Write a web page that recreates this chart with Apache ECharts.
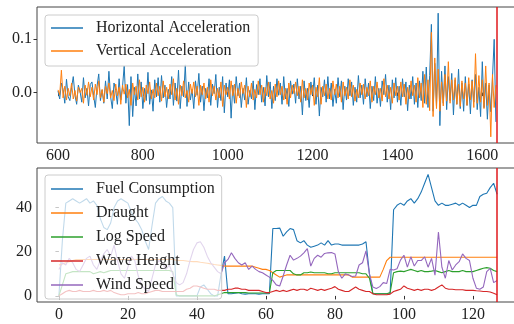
<!DOCTYPE html>
<html>
<head>
<meta charset="utf-8">
<script src="https://cdn.jsdelivr.net/npm/echarts@6/dist/echarts.min.js"></script>
<style>
html,body{margin:0;padding:0;background:#fff;overflow:hidden;}
#chart{width:514px;height:324px;}
</style>
</head>
<body>
<div id="chart"></div>
<script>
// ---------- Top panel: accelerations (values in units of 0.001) ----------
const accStart = 600;
const accStep = 4;
const horizAccMilli = [
  3, -12, 18, 6, -20, 25, -8, -15, 10, 30, -5, -22, 14, 2, -18, 28, -10, 8, -25, 15,
  20, -6, -28, 12, 35, -15, 5, -20, 22, -12, 40, -8, -30, 18, 4, -22, 26, -14, 10, 50,
  -20, 15, -62, 30, -45, 10, -25, 35, -12, 20, -30, 8, -15, 38, -22, 5, -35, 24, -8, 28,
  -18, 32, -10, 14, -28, 6, -12, 30, -24, 18, -16, 42, -30, 12, -8, 52, -26, 20, -14, 6,
  -30, 22, -5, 36, -18, 12, -34, 8, -10, 26, -24, 16, -2, 34, -28, 10, -15, 30, -38, 18,
  -8, 24, -48, 14, -20, 30, -6, 18, -28, 8, -14, 28, -22, 4, -12, 22, -32, 15, -4, 26,
  -18, 10, -25, 32, -8, 20, -30, 12, -15, 26, -5, 18, -22, 30, -12, 8, -26, 22, -3, 16,
  -20, 26, -12, 12, -42, 22, -15, 8, -28, 20, -4, 28, -22, 14, -44, 10, -8, 24, -18, 30,
  -12, 18, -26, 6, -20, 28, -8, 22, -32, 12, -14, 26, -6, 20, -24, 10, -18, 32, -10, 14,
  -22, 26, -8, 18, -30, 12, -15, 30, -20, 8, -26, 22, -4, 34, -18, 14, -32, 24, -10, 28,
  -18, 12, -24, 26, -8, 20, -34, 14, -12, 30, -22, 18, -28, 22, -15, 40, -20, 48, -28, 32,
  128, -35, 55, -25, 149, -62, 40, -20, 50, -32, 30, -15, 36, -42, 24, -22, 44, -30, 18, -35,
  30, -24, 16, -40, 24, -18, 34, -32, 10, -45, 58, -28, 18, -50, 14, -36, 28, 100, -55
];
const vertAccMilli = [
  5, -4, 42, -10, 12, -14, 8, -6, 18, -12, 4, -16, 10, 0, 8, -20, 14, -5, 20, -8,
  10, -14, 16, -4, 22, -10, 6, -18, 12, -2, 18, -10, 4, -15, 16, -6, 10, -22, 14, -3,
  16, -10, 6, -24, 18, -4, 12, -14, 24, -8, 10, -18, 14, -2, 20, -12, 6, -10, 18, -6,
  12, -16, 22, -8, 10, -12, 16, -4, 26, -14, 8, -22, 14, -6, 22, -10, 4, -18, 16, -2,
  20, -8, 12, -24, 14, -4, 18, -12, 10, -18, 24, -6, 12, -14, 8, -10, 20, -26, 14, -4,
  10, -12, 22, -6, 16, -20, 8, -10, 20, -2, 14, -28, 12, -8, 18, -14, 6, -10, 22, -4,
  14, -18, 10, -6, 20, -12, 4, -20, 16, -8, 22, -4, 12, -14, 8, -22, 18, -10, 14, -2,
  20, -6, 12, -18, 24, -10, 8, -14, 18, -4, 14, -24, 10, -8, 28, -22, 12, -6, 16, -12,
  8, -14, 22, -4, 16, -10, 12, -18, 20, -6, 10, -12, 24, -8, 14, -16, 6, -10, 18, -4,
  16, -12, 10, -6, 22, -18, 12, -4, 20, -10, 8, -16, 26, -8, 14, -12, 10, -20, 18, -6,
  12, -14, 20, -8, 16, -22, 10, -12, 22, -6, 14, -18, 28, -10, 18, -28, 34, -22, 24, -34,
  113, -45, 65, -30, 44, -35, 20, -25, 34, -16, 58, -20, 24, -14, 28, -22, 16, -26, 22, -12,
  18, -24, 28, -14, 22, -28, 73, -20, 32, -18, 24, -30, 50, -24, 18, -83, 34, -28, 14
];
const topXTicks = [600, 800, 1000, 1200, 1400, 1600];
const topYTicks = [0.0, 0.1];
const topMarker = 1635;

// ---------- Bottom panel: voyage variables, sample index 0..127 ----------
const fuelConsumption = [
  0, 25, 42, 43, 44, 43, 42, 43, 44, 42, 43, 41, 35, 31, 30, 33, 40, 43, 44, 43,
  42, 38, 35, 33, 30, 25, 21, 32, 42, 44, 45, 43, 42, 40, 0, 0, 0, 0, 0, 0,
  0, 4, 5, 3, 1, 0, 0, 10, 18, 1, 1, 1.2, 1.5, 1, 0.8, 1, 1, 1, 0.8, 1,
  1, 1, 30.5, 30.5, 30.7, 27, 29, 30.5, 30, 25, 24, 25, 23, 22, 22.5, 23, 24, 23, 25, 23,
  23.5, 23.5, 23, 23, 23, 23, 23, 23, 23.5, 24.5, 10, 1, 1, 1, 1, 1, 1, 39, 41, 42,
  41, 43, 44, 42, 44, 47, 51, 55, 49, 43, 41, 42, 41, 41, 41.5, 42, 41, 42, 41, 40,
  41, 41, 45, 46, 46.5, 49, 51, 46
];
const draught = [
  14, 14.5, 15, 15.5, 16, 16.5, 16.5, 16.5, 16.5, 16.5, 16.5, 16.5, 16.5, 16.5, 16.5, 16.5, 16.5, 16.5, 16.5, 16.5,
  16.5, 16.5, 16.5, 16.5, 16.5, 16.5, 16.5, 16.5, 16.5, 16.5, 16.5, 16.5, 16.5, 16.5, 16.2, 16, 16, 15.8, 15.6, 15.5,
  15.5, 15.2, 15, 14.8, 14.5, 14.2, 14, 13.8, 13.5, 13.5, 13.5, 13.5, 13.5, 13.5, 13.5, 13.5, 13.5, 13, 12.5, 12,
  12, 11.5, 10.5, 9.5, 8.5, 9, 9.5, 9.5, 9.5, 9.5, 9.5, 9.5, 9.5, 9.5, 9.5, 9.5, 9.5, 9.5, 9.5, 9.5,
  9.5, 9.5, 9.5, 9.5, 9.5, 8.5, 8.5, 8.5, 8.5, 8.5, 8.5, 8.5, 8.5, 8.5, 12, 16, 17.5, 17.5, 17.5, 17.5,
  17.5, 17.5, 17.5, 17.5, 17.5, 17.5, 17.5, 17.5, 17.5, 17.5, 17.5, 17.5, 17.5, 17.5, 17.5, 17.5, 17.5, 17.5, 17.5, 17.5,
  17.5, 17.5, 17.5, 17.5, 17.5, 17.5, 17.5, 17.5
];
const logSpeed = [
  0, 5, 10, 10.5, 11, 11, 11, 11, 11, 11, 10, 10.5, 11, 10.5, 11, 11.5, 11.5, 11.5, 11.5, 11.5,
  11.5, 11.5, 11.5, 11.5, 11.5, 11.5, 11.5, 11.5, 11.5, 11.5, 11.5, 11.5, 11.5, 11, 0.5, 0, 0, 0, 0, 0,
  0, 0, 0, 0, 0, 0, 0.5, 1, 1.5, 1.5, 1.5, 1.5, 1.5, 1.5, 1.5, 1.3, 1.3, 1.3, 1.3, 1.3,
  1.3, 1.3, 10.5, 11.5, 11.5, 11.5, 11.5, 11.5, 10, 9.5, 9.5, 10.5, 10.5, 10.8, 10.5, 10.5, 10.5, 10.5, 10, 10,
  10.5, 10.5, 10.5, 10.5, 10.5, 10.5, 10.5, 10.5, 10, 10, 8, 1, 1, 1, 1, 1, 1.5, 10.5, 11, 11.2,
  11, 11.5, 12, 11.5, 11, 11.5, 11, 11, 11.2, 11.5, 11, 10.5, 11, 11.5, 11, 11, 11, 11.5, 11, 11,
  11, 11.5, 12, 12.5, 12.8, 12.5, 11.5, 11
];
const waveHeight = [
  0, 1, 2, 2.5, 2, 2, 2.5, 2, 2, 2, 2.5, 2, 2, 2.5, 2, 2.5, 1.5, 1, 0.5, 0.5,
  1, 1, 1, 1.5, 1, 1, 1.5, 2, 2.5, 2.5, 2, 2, 2, 2, 2, 2, 2, 3, 3.5, 4.5,
  4.5, 4, 3.5, 3, 3, 3, 2.5, 2.5, 2.5, 3, 3, 3.5, 3.5, 3, 3, 2.5, 2.5, 2.5, 2.5, 2,
  1.5, 1.5, 2, 2.5, 2, 2.5, 2, 2.5, 3, 2.5, 3, 3, 2.5, 3.5, 3, 2.5, 3, 2.5, 3, 3.5,
  4.2, 3, 2.5, 2, 2, 3, 4, 3, 2.5, 2, 2, 1, 0.5, 0.5, 0.5, 0.5, 0.8, 2, 2.5, 3,
  4.5, 3.5, 3, 2.5, 3, 2.5, 3, 3, 2.5, 3, 4, 5, 3.5, 3, 3, 2.8, 2.8, 2.8, 2.5, 2.5,
  2.5, 2.3, 2.2, 2, 2, 1.8, 1.2, 0.5
];
const windSpeed = [
  12, 15, 14, 17, 15, 12, 11, 14, 17, 18, 14, 12, 16, 19, 21, 18, 23, 16, 10, 8,
  13, 18, 16, 9, 5, 3, 2, 8, 14, 16, 15, 12, 14, 10, 6, 5, 6, 10, 16, 21,
  24, 24.5, 22, 18, 15, 13, 11, 10, 15, 16.5, 19.5, 17, 15, 14, 15, 12, 13.5, 12, 11, 10.5,
  9.5, 8.5, 7, 5, 4.5, 9, 14, 18.4, 16.2, 17, 18, 19.5, 21.4, 13.5, 17, 18.4, 17.5, 19.2, 19.5, 19.6,
  19, 10.9, 8, 10, 9.5, 8.8, 9, 14, 15, 20.4, 10, 4, 3.4, 4.2, 6, 5.6, 12, 11.7, 12.3, 16.2,
  18.4, 13, 17.7, 13.5, 16, 16, 17.7, 13, 17, 9.4, 28.9, 13, 8, 16, 11.7, 14, 15.5, 19, 17, 16,
  8, 3.5, 3, 4, 11, 12.5, 6, 7
];
const bottomXTicks = [0, 20, 40, 60, 80, 100, 120];
const bottomYTicks = [0, 20, 40];
const bottomMarker = 127;

const bottomNames = ['Fuel Consumption', 'Draught', 'Log Speed', 'Wave Height', 'Wind Speed'];
const bottomValues = [fuelConsumption, draught, logSpeed, waveHeight, windSpeed];
const colors = ['#1f77b4', '#ff7f0e', '#2ca02c', '#d62728', '#9467bd'];
const markerColor = '#e0181c';

// ---------- build ----------
const FONT = 'Liberation Serif';
const topH = horizAccMilli.map((v, i) => [accStart + i * accStep, v / 1000]);
const topV = vertAccMilli.map((v, i) => [accStart + i * accStep, v / 1000]);

function axisCommon(ticks, fmt) {
  return {
    splitLine: { show: false },
    axisLine: { show: false },
    axisTick: { show: true, inside: false, length: 3.5, customValues: ticks, lineStyle: { color: '#333', width: 1 } },
    axisLabel: { show: true, customValues: ticks, formatter: fmt, color: '#222', fontFamily: FONT, fontSize: 16, margin: 5 }
  };
}
function marker(x) {
  return {
    silent: true, symbol: 'none', label: { show: false }, animation: false,
    lineStyle: { color: markerColor, width: 1.5, type: 'solid' },
    data: [{ xAxis: x }]
  };
}

const series = [];
series.push({
  type: 'line', name: 'Horizontal Acceleration', xAxisIndex: 0, yAxisIndex: 0,
  data: topH, symbol: 'none', lineStyle: { width: 1, color: colors[0] }, itemStyle: { color: colors[0] }
});
series.push({
  type: 'line', name: 'Vertical Acceleration', xAxisIndex: 0, yAxisIndex: 0,
  data: topV, symbol: 'none', lineStyle: { width: 1, color: colors[1] }, itemStyle: { color: colors[1] },
  markLine: marker(topMarker)
});
bottomValues.forEach((arr, k) => {
  const s = {
    type: 'line', name: bottomNames[k], xAxisIndex: 1, yAxisIndex: 1,
    data: arr.map((v, i) => [i, v]), symbol: 'none',
    lineStyle: { width: 1.1, color: colors[k] }, itemStyle: { color: colors[k] }
  };
  if (k === bottomValues.length - 1) s.markLine = marker(bottomMarker);
  series.push(s);
});

const legendCommon = {
  orient: 'vertical', left: 45, icon: 'rect', itemWidth: 32, itemHeight: 1.5, itemGap: 7,
  backgroundColor: 'rgba(255,255,255,0.72)', borderColor: '#cccccc', borderWidth: 1, borderRadius: 3,
  textStyle: { fontFamily: FONT, fontSize: 16, color: '#222', lineHeight: 16, padding: [0, 0, 0, 8] },
  selectedMode: false, z: 10
};

const option = {
  animation: false,
  backgroundColor: '#ffffff',
  textStyle: { fontFamily: FONT },
  grid: [
    { left: 37, width: 482, top: 7, height: 136, outerBoundsMode: 'none', containLabel: false, show: true, borderColor: '#444', borderWidth: 1, backgroundColor: 'transparent' },
    { left: 37, width: 482, top: 168, height: 134, outerBoundsMode: 'none', containLabel: false, show: true, borderColor: '#444', borderWidth: 1, backgroundColor: 'transparent' }
  ],
  xAxis: [
    Object.assign({ type: 'value', gridIndex: 0, min: 550.5, max: 1686.5 }, axisCommon(topXTicks, v => String(v))),
    Object.assign({ type: 'value', gridIndex: 1, min: -6.35, max: 133.35 }, axisCommon(bottomXTicks, v => String(v)))
  ],
  yAxis: [
    Object.assign({ type: 'value', gridIndex: 0, min: -0.0946, max: 0.1606 }, axisCommon(topYTicks, v => Number(v).toFixed(1))),
    Object.assign({ type: 'value', gridIndex: 1, min: -2.76, max: 57.9 }, axisCommon(bottomYTicks, v => String(v)))
  ],
  legend: [
    Object.assign({}, legendCommon, { top: 15, padding: [5, 8, 7, 6], data: ['Horizontal Acceleration', 'Vertical Acceleration'] }),
    Object.assign({}, legendCommon, { top: 175, itemGap: 8, padding: [6, 7, 6, 6], data: bottomNames })
  ],
  series: series
};

const chart = echarts.init(document.getElementById('chart'), null, { renderer: 'canvas' });
chart.setOption(option);
</script>
</body>
</html>
